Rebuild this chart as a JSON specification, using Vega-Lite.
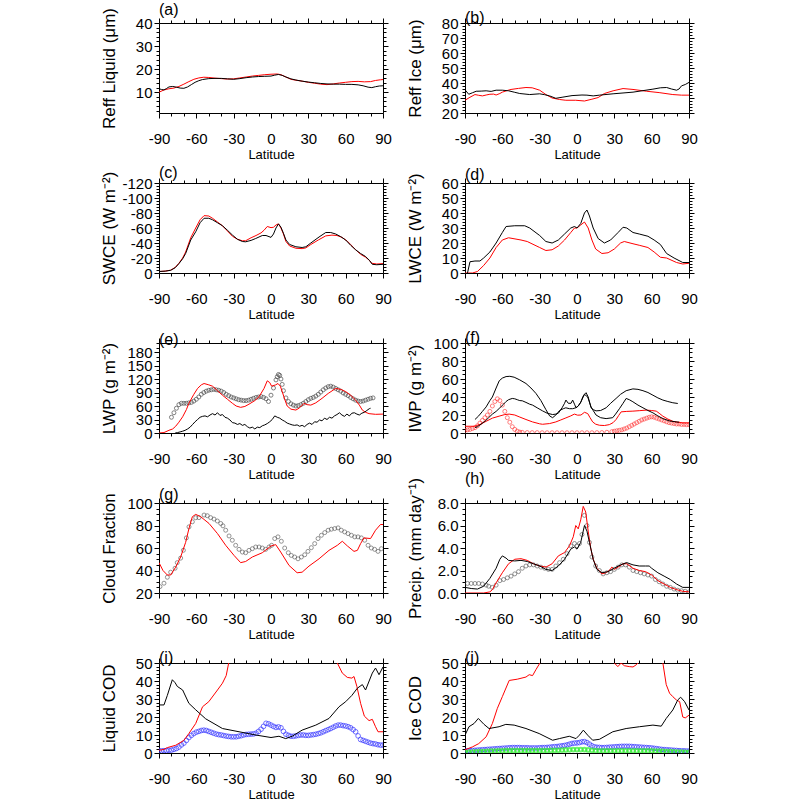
{
"$schema":"https://vega.github.io/schema/vega-lite/v6.json",
"background":"white",
"padding":{"left":100,"top":1,"right":5,"bottom":2},
"config":{
 "font":"Liberation Sans",
 "view":{"stroke":null},
 "title":{"fontSize":16,"fontWeight":"normal","anchor":"start","frame":"group","offset":-10,"color":"#000","font":"Liberation Sans"},
 "axis":{"labelFont":"Liberation Sans","titleFont":"Liberation Sans","labelFontSize":15,"titleFontSize":17,"titleFontWeight":"normal","labelColor":"#000","titleColor":"#000","domainColor":"#000","tickColor":"#000","tickSize":5,"tickWidth":1,"domainWidth":1,"grid":false,"labelFlush":false,"labelOverlap":false},
 "axisX":{"titleFontSize":13,"labelPadding":13,"titlePadding":2},
 "axisY":{"labelPadding":2,"titlePadding":4}
},
"datasets":{
"a_r":[{"lat":-90,"v":10},{"lat":-86,"v":11},{"lat":-82,"v":11.5},{"lat":-78,"v":11.8},{"lat":-74,"v":12.5},{"lat":-70,"v":13.5},{"lat":-66,"v":14.6},{"lat":-62,"v":15.6},{"lat":-58,"v":16.2},{"lat":-54,"v":16.5},{"lat":-50,"v":16.4},{"lat":-45,"v":16.1},{"lat":-40,"v":15.9},{"lat":-35,"v":15.7},{"lat":-30,"v":15.8},{"lat":-25,"v":16.2},{"lat":-20,"v":16.6},{"lat":-15,"v":17},{"lat":-10,"v":17.3},{"lat":-5,"v":17.6},{"lat":0,"v":17.8},{"lat":5,"v":17.9},{"lat":8,"v":17.6},{"lat":12,"v":16.6},{"lat":16,"v":15.6},{"lat":20,"v":15.2},{"lat":25,"v":14.8},{"lat":30,"v":14.3},{"lat":35,"v":13.9},{"lat":40,"v":13.5},{"lat":45,"v":13.3},{"lat":50,"v":13.6},{"lat":55,"v":14},{"lat":60,"v":14.3},{"lat":65,"v":14.6},{"lat":70,"v":14.7},{"lat":75,"v":14.5},{"lat":80,"v":14.6},{"lat":84,"v":15.1},{"lat":88,"v":15.4},{"lat":90,"v":15.5}],
"a_k":[{"lat":-90,"v":11.5},{"lat":-88,"v":11.2},{"lat":-86,"v":11},{"lat":-84,"v":11.6},{"lat":-82,"v":12.3},{"lat":-79,"v":12.5},{"lat":-76,"v":12.2},{"lat":-73,"v":11.8},{"lat":-70,"v":11.7},{"lat":-67,"v":12.3},{"lat":-64,"v":13.3},{"lat":-61,"v":14.3},{"lat":-58,"v":15},{"lat":-55,"v":15.5},{"lat":-50,"v":15.9},{"lat":-45,"v":16},{"lat":-40,"v":16},{"lat":-35,"v":15.8},{"lat":-30,"v":15.6},{"lat":-25,"v":15.9},{"lat":-20,"v":16.3},{"lat":-15,"v":16.6},{"lat":-10,"v":16.8},{"lat":-5,"v":16.9},{"lat":0,"v":17},{"lat":3,"v":17.4},{"lat":6,"v":17.7},{"lat":9,"v":17.3},{"lat":12,"v":16.6},{"lat":16,"v":15.8},{"lat":20,"v":15.3},{"lat":25,"v":14.8},{"lat":30,"v":14.4},{"lat":35,"v":14.1},{"lat":40,"v":13.8},{"lat":45,"v":13.6},{"lat":50,"v":13.5},{"lat":55,"v":13.5},{"lat":60,"v":13.4},{"lat":65,"v":13.4},{"lat":70,"v":13.2},{"lat":74,"v":12.8},{"lat":78,"v":12.2},{"lat":81,"v":12},{"lat":84,"v":12.4},{"lat":87,"v":12.7},{"lat":90,"v":12.8}],
"b_r":[{"lat":-90,"v":28.5},{"lat":-86,"v":30.5},{"lat":-82,"v":32.3},{"lat":-79,"v":31.8},{"lat":-76,"v":31.4},{"lat":-73,"v":32},{"lat":-70,"v":32.5},{"lat":-67,"v":32.6},{"lat":-65,"v":32},{"lat":-62,"v":33},{"lat":-60,"v":33.9},{"lat":-56,"v":35},{"lat":-53,"v":35.7},{"lat":-47,"v":36.4},{"lat":-41,"v":37},{"lat":-36,"v":36.8},{"lat":-30,"v":35.2},{"lat":-25,"v":32.3},{"lat":-20,"v":30},{"lat":-14,"v":29},{"lat":-9,"v":28.5},{"lat":-1,"v":28.5},{"lat":6,"v":28},{"lat":12,"v":29.2},{"lat":17,"v":30.3},{"lat":22,"v":33},{"lat":29,"v":34.8},{"lat":37,"v":36.3},{"lat":45,"v":35.7},{"lat":56,"v":34.5},{"lat":66,"v":33.6},{"lat":77,"v":32.3},{"lat":84,"v":31.9},{"lat":90,"v":31.9}],
"b_k":[{"lat":-90,"v":35.5},{"lat":-87,"v":32.5},{"lat":-84,"v":33.5},{"lat":-81,"v":34.5},{"lat":-77,"v":34.6},{"lat":-73,"v":34.8},{"lat":-69,"v":34.4},{"lat":-65,"v":35.2},{"lat":-60,"v":35.2},{"lat":-55,"v":34.8},{"lat":-50,"v":33.8},{"lat":-46,"v":33},{"lat":-38,"v":32.3},{"lat":-30,"v":32.8},{"lat":-26,"v":32.2},{"lat":-22,"v":31.4},{"lat":-17,"v":29.8},{"lat":-12,"v":30.5},{"lat":-4,"v":31.6},{"lat":4,"v":32},{"lat":8,"v":31.9},{"lat":13,"v":31.4},{"lat":18,"v":31.9},{"lat":29,"v":32.8},{"lat":45,"v":33.9},{"lat":61,"v":35.9},{"lat":67,"v":36.8},{"lat":72,"v":37},{"lat":76,"v":36},{"lat":80,"v":35.2},{"lat":82,"v":36},{"lat":84,"v":38.1},{"lat":87,"v":39},{"lat":90,"v":40.4}],
"c_k":[{"lat":-90,"v":-2},{"lat":-85,"v":-2.5},{"lat":-80.6,"v":-3.6},{"lat":-77,"v":-7},{"lat":-74,"v":-12.5},{"lat":-71,"v":-19},{"lat":-68.6,"v":-26},{"lat":-64.5,"v":-44},{"lat":-60.5,"v":-55},{"lat":-57,"v":-67},{"lat":-53.8,"v":-73},{"lat":-50,"v":-73},{"lat":-47,"v":-71},{"lat":-43,"v":-67},{"lat":-39,"v":-63},{"lat":-35,"v":-57},{"lat":-31,"v":-50.6},{"lat":-27,"v":-45},{"lat":-23,"v":-42},{"lat":-20.4,"v":-41.6},{"lat":-16,"v":-43.5},{"lat":-12.3,"v":-46},{"lat":-7,"v":-50},{"lat":-4,"v":-50},{"lat":0,"v":-47.5},{"lat":2,"v":-52},{"lat":4,"v":-60},{"lat":6,"v":-65.5},{"lat":8,"v":-61},{"lat":10,"v":-53},{"lat":12,"v":-44},{"lat":15,"v":-38},{"lat":20,"v":-35},{"lat":25,"v":-34},{"lat":28,"v":-35},{"lat":32,"v":-40},{"lat":38.6,"v":-48},{"lat":44,"v":-54},{"lat":48,"v":-54},{"lat":52,"v":-52},{"lat":56,"v":-48.5},{"lat":60,"v":-44},{"lat":64,"v":-37},{"lat":68,"v":-31},{"lat":72,"v":-26},{"lat":76,"v":-22},{"lat":79,"v":-17},{"lat":81.4,"v":-11.6},{"lat":85,"v":-11},{"lat":90,"v":-11.6}],
"c_r":[{"lat":-90,"v":-2},{"lat":-85,"v":-2.5},{"lat":-80.6,"v":-3.8},{"lat":-77,"v":-7.5},{"lat":-74,"v":-13},{"lat":-71,"v":-20},{"lat":-68.6,"v":-28},{"lat":-64.5,"v":-47},{"lat":-60.5,"v":-60},{"lat":-57,"v":-71},{"lat":-53.8,"v":-76.5},{"lat":-50,"v":-76},{"lat":-47,"v":-73},{"lat":-43,"v":-68},{"lat":-39,"v":-63},{"lat":-35,"v":-56},{"lat":-31,"v":-49},{"lat":-27,"v":-45},{"lat":-23,"v":-43},{"lat":-20.4,"v":-43},{"lat":-16,"v":-47},{"lat":-12,"v":-50},{"lat":-8,"v":-53.5},{"lat":-5.6,"v":-57},{"lat":-3,"v":-62},{"lat":0,"v":-60.5},{"lat":2,"v":-61},{"lat":4,"v":-64},{"lat":6,"v":-65.5},{"lat":8,"v":-60},{"lat":10,"v":-52},{"lat":12,"v":-42},{"lat":15,"v":-36},{"lat":20,"v":-33},{"lat":25,"v":-32.5},{"lat":28,"v":-33.5},{"lat":32,"v":-38},{"lat":38,"v":-44},{"lat":44,"v":-49.5},{"lat":49,"v":-50.5},{"lat":53,"v":-50},{"lat":57,"v":-47.5},{"lat":61,"v":-43},{"lat":64,"v":-38},{"lat":68,"v":-31},{"lat":72,"v":-25},{"lat":76,"v":-21},{"lat":79,"v":-17},{"lat":81,"v":-13},{"lat":85,"v":-12},{"lat":90,"v":-12.5}],
"d_k":[{"lat":-88,"v":0},{"lat":-86,"v":7.5},{"lat":-82,"v":8},{"lat":-78,"v":8},{"lat":-75,"v":10},{"lat":-70,"v":14},{"lat":-65,"v":20},{"lat":-60,"v":27},{"lat":-57,"v":31},{"lat":-50,"v":31.5},{"lat":-42,"v":31.5},{"lat":-38,"v":30},{"lat":-30,"v":25},{"lat":-25,"v":21},{"lat":-20,"v":20},{"lat":-15,"v":22},{"lat":-10,"v":26},{"lat":-5,"v":30},{"lat":-2,"v":31},{"lat":0,"v":30},{"lat":3,"v":33},{"lat":6,"v":40},{"lat":8,"v":42},{"lat":10,"v":38},{"lat":13,"v":30},{"lat":17,"v":23},{"lat":22,"v":20},{"lat":27,"v":22},{"lat":33,"v":27},{"lat":37,"v":30.5},{"lat":40,"v":30},{"lat":45,"v":27},{"lat":50,"v":26},{"lat":57,"v":24.5},{"lat":62,"v":22},{"lat":67,"v":19},{"lat":72,"v":13},{"lat":78,"v":10},{"lat":85,"v":7},{"lat":90,"v":7}],
"d_r":[{"lat":-90,"v":0},{"lat":-84,"v":0},{"lat":-80,"v":1},{"lat":-75,"v":5},{"lat":-70,"v":10},{"lat":-65,"v":17},{"lat":-60,"v":22},{"lat":-55,"v":23.5},{"lat":-45,"v":22},{"lat":-40,"v":21},{"lat":-30,"v":17},{"lat":-25,"v":15},{"lat":-20,"v":15.5},{"lat":-15,"v":18},{"lat":-10,"v":22},{"lat":-5,"v":27},{"lat":-2,"v":30},{"lat":0,"v":30},{"lat":3,"v":32},{"lat":6,"v":34},{"lat":9,"v":30},{"lat":12,"v":22},{"lat":15,"v":16},{"lat":20,"v":13},{"lat":25,"v":13.5},{"lat":30,"v":16},{"lat":35,"v":20},{"lat":38,"v":21},{"lat":45,"v":19.5},{"lat":50,"v":18.5},{"lat":57,"v":17},{"lat":62,"v":14},{"lat":67,"v":10.5},{"lat":72,"v":10},{"lat":80,"v":7},{"lat":85,"v":6},{"lat":90,"v":6.5}],
"e_r":[{"lat":-90,"v":0},{"lat":-86,"v":1},{"lat":-82,"v":6},{"lat":-79,"v":9},{"lat":-76.6,"v":15},{"lat":-74,"v":24},{"lat":-71,"v":36},{"lat":-68,"v":52},{"lat":-66,"v":66},{"lat":-62,"v":86},{"lat":-59,"v":99},{"lat":-56,"v":107},{"lat":-53.8,"v":110},{"lat":-50,"v":107},{"lat":-47,"v":104},{"lat":-43,"v":94},{"lat":-39,"v":84},{"lat":-35,"v":75},{"lat":-31,"v":66},{"lat":-28,"v":60},{"lat":-24.4,"v":57},{"lat":-21,"v":59},{"lat":-17.7,"v":64},{"lat":-13,"v":72},{"lat":-9.6,"v":80.6},{"lat":-5.6,"v":99},{"lat":-3,"v":116},{"lat":-1,"v":112},{"lat":0.5,"v":104},{"lat":3.8,"v":107},{"lat":5.6,"v":110},{"lat":7.5,"v":104},{"lat":9,"v":92},{"lat":11,"v":75},{"lat":13,"v":60},{"lat":16,"v":53},{"lat":20,"v":51},{"lat":23,"v":56},{"lat":26.5,"v":66},{"lat":29,"v":63},{"lat":32,"v":62},{"lat":36,"v":67},{"lat":41,"v":77},{"lat":46,"v":88},{"lat":52,"v":99},{"lat":56,"v":97},{"lat":60,"v":92},{"lat":64,"v":84},{"lat":68,"v":73},{"lat":71,"v":62},{"lat":73.4,"v":51},{"lat":76,"v":46},{"lat":78.8,"v":43},{"lat":84,"v":41.5},{"lat":90,"v":42}],
"e_k":[{"lat":-77,"v":0},{"lat":-75,"v":1},{"lat":-73,"v":2.5},{"lat":-71,"v":4},{"lat":-69,"v":6},{"lat":-67,"v":9},{"lat":-65,"v":13},{"lat":-63,"v":19},{"lat":-61,"v":25},{"lat":-59,"v":30},{"lat":-57,"v":35},{"lat":-55,"v":37},{"lat":-53,"v":38},{"lat":-51,"v":36},{"lat":-49,"v":40},{"lat":-47,"v":43},{"lat":-45,"v":40},{"lat":-43,"v":45},{"lat":-41,"v":39},{"lat":-39,"v":41},{"lat":-37,"v":35},{"lat":-35,"v":33},{"lat":-33,"v":29},{"lat":-31,"v":23},{"lat":-29,"v":22},{"lat":-27,"v":19},{"lat":-25,"v":21},{"lat":-23,"v":17},{"lat":-21,"v":19},{"lat":-19,"v":14},{"lat":-17,"v":11},{"lat":-15,"v":13},{"lat":-13,"v":9},{"lat":-11,"v":13},{"lat":-9,"v":12},{"lat":-7,"v":16},{"lat":-5,"v":18},{"lat":-3,"v":21},{"lat":-1,"v":25},{"lat":1,"v":30},{"lat":3,"v":38},{"lat":5,"v":35},{"lat":7,"v":33},{"lat":9,"v":29},{"lat":11,"v":26},{"lat":13,"v":22},{"lat":15,"v":20},{"lat":17,"v":18},{"lat":19,"v":17},{"lat":21,"v":18},{"lat":23,"v":15},{"lat":25,"v":17},{"lat":27,"v":14},{"lat":29,"v":19},{"lat":31,"v":22},{"lat":33,"v":19},{"lat":35,"v":25},{"lat":37,"v":24},{"lat":39,"v":29},{"lat":41,"v":27},{"lat":43,"v":33},{"lat":45,"v":30},{"lat":47,"v":35},{"lat":49,"v":33},{"lat":51,"v":38},{"lat":53,"v":41},{"lat":55,"v":45},{"lat":57,"v":40},{"lat":59,"v":37},{"lat":61,"v":42},{"lat":63,"v":38},{"lat":65,"v":44},{"lat":67,"v":45},{"lat":69,"v":42},{"lat":71,"v":40},{"lat":73,"v":44},{"lat":75,"v":46},{"lat":77,"v":50},{"lat":79,"v":54},{"lat":80,"v":55}],
"e_o":[{"lat":-80,"v":35},{"lat":-78,"v":45},{"lat":-76,"v":55},{"lat":-74,"v":63},{"lat":-72,"v":66},{"lat":-70,"v":66},{"lat":-68,"v":66},{"lat":-66,"v":67},{"lat":-64,"v":68},{"lat":-62,"v":71},{"lat":-60,"v":75},{"lat":-58,"v":80},{"lat":-56,"v":86},{"lat":-54,"v":90},{"lat":-52,"v":93},{"lat":-50,"v":95},{"lat":-48,"v":96},{"lat":-46,"v":97},{"lat":-44,"v":96},{"lat":-42,"v":95},{"lat":-40,"v":93},{"lat":-38,"v":90},{"lat":-36,"v":86},{"lat":-34,"v":83},{"lat":-32,"v":80},{"lat":-30,"v":78},{"lat":-28,"v":76},{"lat":-26,"v":74},{"lat":-24,"v":73},{"lat":-22,"v":72},{"lat":-20,"v":72},{"lat":-18,"v":73},{"lat":-16,"v":75},{"lat":-14,"v":77},{"lat":-12,"v":79},{"lat":-10,"v":80},{"lat":-8,"v":81},{"lat":-6,"v":79},{"lat":-4,"v":76},{"lat":-2,"v":70},{"lat":0,"v":84},{"lat":2,"v":100},{"lat":4,"v":118},{"lat":5,"v":125},{"lat":6,"v":130},{"lat":7,"v":128},{"lat":8,"v":120},{"lat":9,"v":108},{"lat":10,"v":94},{"lat":12,"v":78},{"lat":14,"v":70},{"lat":16,"v":65},{"lat":18,"v":62},{"lat":20,"v":60},{"lat":22,"v":61},{"lat":24,"v":63},{"lat":26,"v":66},{"lat":28,"v":70},{"lat":30,"v":74},{"lat":32,"v":77},{"lat":34,"v":79},{"lat":36,"v":82},{"lat":38,"v":86},{"lat":40,"v":91},{"lat":42,"v":96},{"lat":44,"v":100},{"lat":46,"v":103},{"lat":48,"v":104},{"lat":50,"v":102},{"lat":52,"v":99},{"lat":54,"v":96},{"lat":56,"v":93},{"lat":58,"v":89},{"lat":60,"v":86},{"lat":62,"v":83},{"lat":64,"v":79},{"lat":66,"v":76},{"lat":68,"v":73},{"lat":70,"v":71},{"lat":72,"v":70},{"lat":74,"v":71},{"lat":76,"v":73},{"lat":78,"v":75},{"lat":80,"v":77},{"lat":82,"v":78}],
"f_k1":[{"lat":-82,"v":15},{"lat":-79,"v":19},{"lat":-76,"v":24},{"lat":-73,"v":29},{"lat":-70,"v":36},{"lat":-68,"v":40},{"lat":-65,"v":50},{"lat":-62.5,"v":58},{"lat":-60,"v":61},{"lat":-57,"v":62.7},{"lat":-54,"v":63},{"lat":-50.5,"v":62},{"lat":-46,"v":59},{"lat":-41,"v":55},{"lat":-37,"v":50},{"lat":-33,"v":44},{"lat":-29,"v":36},{"lat":-25,"v":26},{"lat":-22,"v":19},{"lat":-19.6,"v":17},{"lat":-17,"v":20},{"lat":-14,"v":25},{"lat":-11,"v":27},{"lat":-9,"v":28},{"lat":-6,"v":27},{"lat":-3.5,"v":27},{"lat":-1,"v":28},{"lat":1,"v":30},{"lat":3,"v":34},{"lat":4.6,"v":40},{"lat":6,"v":43},{"lat":7.3,"v":44.8},{"lat":9,"v":40},{"lat":11.3,"v":28},{"lat":13,"v":26},{"lat":15.3,"v":24.6},{"lat":19,"v":25},{"lat":23.4,"v":28},{"lat":27,"v":33},{"lat":31.4,"v":38.4},{"lat":35,"v":43},{"lat":39.5,"v":47},{"lat":44.9,"v":49},{"lat":49,"v":48.5},{"lat":53,"v":47},{"lat":57,"v":45},{"lat":61,"v":42},{"lat":65,"v":39},{"lat":69,"v":36.6},{"lat":73,"v":35},{"lat":77,"v":33.6},{"lat":81,"v":32.8}],
"f_k2":[{"lat":-82,"v":6},{"lat":-80,"v":7},{"lat":-77,"v":10},{"lat":-74,"v":13},{"lat":-71,"v":17},{"lat":-68,"v":21},{"lat":-65,"v":24},{"lat":-62,"v":28},{"lat":-59,"v":32},{"lat":-57,"v":35},{"lat":-55,"v":37},{"lat":-52,"v":38.4},{"lat":-50,"v":38},{"lat":-48,"v":37},{"lat":-46,"v":36},{"lat":-44,"v":35.8},{"lat":-41,"v":34},{"lat":-38,"v":32},{"lat":-35.7,"v":31},{"lat":-32,"v":28},{"lat":-27.7,"v":24.6},{"lat":-24,"v":22},{"lat":-19.6,"v":20.5},{"lat":-17,"v":21},{"lat":-15,"v":22},{"lat":-12,"v":28},{"lat":-10,"v":33},{"lat":-8.9,"v":36.6},{"lat":-7,"v":33},{"lat":-4.8,"v":33},{"lat":-3.5,"v":36.6},{"lat":-2,"v":32},{"lat":-0.8,"v":28},{"lat":1,"v":30},{"lat":3.2,"v":34.7},{"lat":6,"v":43},{"lat":8.6,"v":40},{"lat":11.3,"v":29},{"lat":13,"v":25},{"lat":15.3,"v":20},{"lat":19,"v":17},{"lat":23.4,"v":16},{"lat":28.7,"v":17},{"lat":31,"v":21},{"lat":34.1,"v":27},{"lat":37,"v":33},{"lat":39.5,"v":38.4},{"lat":42,"v":37},{"lat":44.9,"v":34.7},{"lat":49,"v":31},{"lat":53,"v":28},{"lat":57,"v":25},{"lat":61,"v":22.4},{"lat":65,"v":19},{"lat":69,"v":16},{"lat":74,"v":13.5},{"lat":79.8,"v":12.3},{"lat":82,"v":12}],
"f_r":[{"lat":-90,"v":7.5},{"lat":-82,"v":7.5},{"lat":-78,"v":9.5},{"lat":-73,"v":13},{"lat":-68,"v":16.5},{"lat":-62.6,"v":18.7},{"lat":-58,"v":20.5},{"lat":-54.5,"v":21},{"lat":-50,"v":20},{"lat":-46.5,"v":18},{"lat":-41,"v":15},{"lat":-35.7,"v":12.3},{"lat":-30,"v":10.2},{"lat":-27.7,"v":9.7},{"lat":-22,"v":10.5},{"lat":-17,"v":12.3},{"lat":-13,"v":14.5},{"lat":-8.9,"v":16.8},{"lat":-5,"v":19},{"lat":-2.1,"v":21},{"lat":0.5,"v":19.8},{"lat":3.2,"v":20},{"lat":6,"v":23},{"lat":8.6,"v":21.6},{"lat":10.5,"v":17},{"lat":12.6,"v":12.3},{"lat":15,"v":9.8},{"lat":18,"v":8.6},{"lat":22,"v":8.3},{"lat":26,"v":9.3},{"lat":29,"v":11.5},{"lat":31.4,"v":15},{"lat":33.5,"v":19.5},{"lat":35.5,"v":23.5},{"lat":40,"v":24},{"lat":44.9,"v":24.3},{"lat":50,"v":24.8},{"lat":55.6,"v":25.4},{"lat":60,"v":25},{"lat":63.7,"v":24.3},{"lat":66,"v":22},{"lat":69,"v":18.7},{"lat":73,"v":15.5},{"lat":77,"v":13},{"lat":81,"v":12},{"lat":85,"v":11.2},{"lat":90,"v":11.2}],
"f_o":[{"lat":-90,"v":3},{"lat":-88,"v":3.5},{"lat":-86,"v":4},{"lat":-84,"v":5},{"lat":-82,"v":6},{"lat":-80,"v":8},{"lat":-78,"v":11},{"lat":-76,"v":14},{"lat":-74,"v":17},{"lat":-72,"v":20},{"lat":-70,"v":24},{"lat":-68,"v":30},{"lat":-66,"v":35},{"lat":-64,"v":38},{"lat":-62,"v":36},{"lat":-60,"v":31},{"lat":-58,"v":24},{"lat":-56,"v":17},{"lat":-54,"v":12},{"lat":-52,"v":7},{"lat":-50,"v":4},{"lat":-48,"v":2},{"lat":-46,"v":1},{"lat":-44,"v":0.7},{"lat":-40,"v":0.5},{"lat":-36,"v":0.4},{"lat":-32,"v":0.4},{"lat":-28,"v":0.3},{"lat":-24,"v":0.3},{"lat":-20,"v":0.3},{"lat":-16,"v":0.3},{"lat":-12,"v":0.3},{"lat":-8,"v":0.3},{"lat":-4,"v":0.3},{"lat":0,"v":0.3},{"lat":4,"v":0.3},{"lat":8,"v":0.3},{"lat":12,"v":0.3},{"lat":16,"v":0.4},{"lat":20,"v":0.5},{"lat":24,"v":0.8},{"lat":28,"v":1.5},{"lat":30,"v":2},{"lat":32,"v":2.5},{"lat":34,"v":3},{"lat":36,"v":3.5},{"lat":38,"v":4.5},{"lat":40,"v":5.5},{"lat":42,"v":7},{"lat":44,"v":8.5},{"lat":46,"v":10},{"lat":48,"v":11.5},{"lat":50,"v":13},{"lat":52,"v":14.5},{"lat":54,"v":15.5},{"lat":56,"v":16.5},{"lat":58,"v":17.5},{"lat":60,"v":18},{"lat":62,"v":17.5},{"lat":64,"v":16.5},{"lat":66,"v":15.5},{"lat":68,"v":14.5},{"lat":70,"v":13.5},{"lat":72,"v":12.5},{"lat":74,"v":11.5},{"lat":76,"v":11},{"lat":78,"v":10.5},{"lat":80,"v":10},{"lat":82,"v":10},{"lat":84,"v":9.5},{"lat":86,"v":9.5},{"lat":88,"v":9.3},{"lat":90,"v":9.3}],
"g_r":[{"lat":-90,"v":47},{"lat":-86.8,"v":40},{"lat":-83.3,"v":36},{"lat":-80.6,"v":36},{"lat":-76.6,"v":43},{"lat":-72.6,"v":52},{"lat":-68.6,"v":65},{"lat":-66,"v":77},{"lat":-63.2,"v":87.8},{"lat":-60.5,"v":89.9},{"lat":-56.5,"v":87.8},{"lat":-49.8,"v":81.8},{"lat":-43,"v":72.8},{"lat":-36.4,"v":62.4},{"lat":-29.7,"v":53.4},{"lat":-24.4,"v":47},{"lat":-20.4,"v":48},{"lat":-15,"v":52},{"lat":-7,"v":55.8},{"lat":0,"v":61.8},{"lat":3.8,"v":63},{"lat":7.8,"v":56.4},{"lat":14.5,"v":44.5},{"lat":21,"v":38},{"lat":25,"v":38.5},{"lat":30.5,"v":43.9},{"lat":38.6,"v":50.4},{"lat":46.6,"v":57.9},{"lat":53.3,"v":62.4},{"lat":57.3,"v":66},{"lat":61.4,"v":61.8},{"lat":66.7,"v":57},{"lat":69.4,"v":57.9},{"lat":72,"v":63.9},{"lat":74.7,"v":69},{"lat":80,"v":68.4},{"lat":84,"v":75.8},{"lat":88,"v":80.9},{"lat":90,"v":80.9}],
"g_o":[{"lat":-89.2,"v":25.7},{"lat":-86,"v":28.7},{"lat":-83.3,"v":34},{"lat":-80.6,"v":38.5},{"lat":-77.1,"v":42},{"lat":-75.3,"v":47},{"lat":-72.6,"v":51},{"lat":-70.4,"v":58},{"lat":-68,"v":69},{"lat":-65.9,"v":78.8},{"lat":-63.2,"v":83.3},{"lat":-60.5,"v":86.9},{"lat":-57.9,"v":87},{"lat":-53.8,"v":89.3},{"lat":-51.2,"v":88.7},{"lat":-48.5,"v":87},{"lat":-45.8,"v":85.7},{"lat":-43.1,"v":84},{"lat":-40.4,"v":81.8},{"lat":-38.6,"v":79.7},{"lat":-36.4,"v":75.8},{"lat":-33.7,"v":70.7},{"lat":-31.1,"v":66.9},{"lat":-28.4,"v":62.4},{"lat":-25.7,"v":58.8},{"lat":-23,"v":56.4},{"lat":-20.4,"v":55.8},{"lat":-17.7,"v":57.9},{"lat":-15,"v":59.4},{"lat":-12.3,"v":60.9},{"lat":-9.6,"v":60.9},{"lat":-7,"v":60},{"lat":-4.3,"v":58.8},{"lat":-1.6,"v":60.9},{"lat":0.5,"v":62.4},{"lat":3,"v":68.4},{"lat":5.6,"v":69.9},{"lat":8.3,"v":66},{"lat":11,"v":60},{"lat":13.9,"v":55.8},{"lat":16.3,"v":53.4},{"lat":19,"v":52},{"lat":21.7,"v":50.4},{"lat":24.4,"v":52},{"lat":27.1,"v":54},{"lat":29.7,"v":57},{"lat":32.4,"v":60.3},{"lat":35.1,"v":63.9},{"lat":37.8,"v":68.4},{"lat":40.5,"v":71.3},{"lat":43.2,"v":73.7},{"lat":45.9,"v":75.8},{"lat":48.5,"v":76.7},{"lat":51.2,"v":77.3},{"lat":53.9,"v":77.9},{"lat":56.5,"v":75.8},{"lat":59.2,"v":74.3},{"lat":61.9,"v":72.8},{"lat":64.6,"v":71.3},{"lat":67.3,"v":69.9},{"lat":69.9,"v":69.9},{"lat":72.6,"v":69},{"lat":75.3,"v":66.9},{"lat":78,"v":62.4},{"lat":80.6,"v":60},{"lat":83.3,"v":58.8},{"lat":86,"v":57},{"lat":88.7,"v":59.4}],
"h_k":[{"lat":-90,"v":0.5},{"lat":-85,"v":0.4},{"lat":-80,"v":0.35},{"lat":-75,"v":0.6},{"lat":-70,"v":1.3},{"lat":-65,"v":2.2},{"lat":-62,"v":3.0},{"lat":-60,"v":3.3},{"lat":-57,"v":3.1},{"lat":-55,"v":2.9},{"lat":-50,"v":2.85},{"lat":-45,"v":2.9},{"lat":-40,"v":2.8},{"lat":-35,"v":2.6},{"lat":-30,"v":2.4},{"lat":-25,"v":2.1},{"lat":-20,"v":2.0},{"lat":-15,"v":2.4},{"lat":-10,"v":3.0},{"lat":-5,"v":3.9},{"lat":-2,"v":4.1},{"lat":0,"v":3.9},{"lat":3,"v":4.5},{"lat":6,"v":6.0},{"lat":8,"v":5.5},{"lat":10,"v":4.5},{"lat":13,"v":3.0},{"lat":16,"v":2.1},{"lat":20,"v":1.8},{"lat":25,"v":1.9},{"lat":30,"v":2.2},{"lat":35,"v":2.5},{"lat":40,"v":2.7},{"lat":45,"v":2.5},{"lat":50,"v":2.4},{"lat":55,"v":2.4},{"lat":58,"v":2.4},{"lat":60,"v":2.2},{"lat":65,"v":1.8},{"lat":70,"v":1.5},{"lat":75,"v":1.2},{"lat":80,"v":0.8},{"lat":85,"v":0.5},{"lat":90,"v":0.5}],
"h_r":[{"lat":-90,"v":0},{"lat":-75,"v":0},{"lat":-70,"v":0.1},{"lat":-68,"v":0.3},{"lat":-65,"v":0.9},{"lat":-60,"v":1.8},{"lat":-55,"v":2.6},{"lat":-50,"v":3.0},{"lat":-45,"v":3.05},{"lat":-40,"v":2.9},{"lat":-35,"v":2.6},{"lat":-30,"v":2.4},{"lat":-25,"v":2.3},{"lat":-20,"v":2.6},{"lat":-15,"v":3.3},{"lat":-10,"v":3.6},{"lat":-6,"v":4.2},{"lat":-3,"v":5.0},{"lat":-1,"v":6.0},{"lat":1,"v":5.7},{"lat":3,"v":6.5},{"lat":5,"v":7.7},{"lat":7,"v":7.2},{"lat":9,"v":5.5},{"lat":11,"v":4.0},{"lat":13,"v":3.0},{"lat":16,"v":2.2},{"lat":20,"v":1.7},{"lat":23,"v":1.8},{"lat":26,"v":2.0},{"lat":28,"v":2.3},{"lat":30,"v":2.1},{"lat":33,"v":2.3},{"lat":37,"v":2.6},{"lat":40,"v":2.6},{"lat":45,"v":2.2},{"lat":50,"v":2.0},{"lat":55,"v":1.9},{"lat":60,"v":1.6},{"lat":65,"v":1.1},{"lat":70,"v":0.8},{"lat":75,"v":0.5},{"lat":80,"v":0.3},{"lat":85,"v":0.15},{"lat":90,"v":0.1}],
"h_o":[{"lat":-88,"v":0.85},{"lat":-85,"v":0.85},{"lat":-82,"v":0.85},{"lat":-79,"v":0.85},{"lat":-76,"v":0.8},{"lat":-73,"v":0.7},{"lat":-71,"v":0.6},{"lat":-68,"v":0.5},{"lat":-65,"v":0.7},{"lat":-62,"v":1.1},{"lat":-59,"v":1.2},{"lat":-56,"v":1.35},{"lat":-53,"v":1.5},{"lat":-50,"v":1.7},{"lat":-47,"v":1.9},{"lat":-44,"v":2.2},{"lat":-41,"v":2.4},{"lat":-38,"v":2.5},{"lat":-35,"v":2.5},{"lat":-32,"v":2.4},{"lat":-29,"v":2.3},{"lat":-26,"v":2.2},{"lat":-23,"v":2.1},{"lat":-20,"v":2.1},{"lat":-17,"v":2.4},{"lat":-14,"v":2.7},{"lat":-11,"v":3.0},{"lat":-8,"v":3.5},{"lat":-5,"v":4.2},{"lat":-2,"v":4.4},{"lat":0,"v":4.2},{"lat":2,"v":4.4},{"lat":4,"v":5.2},{"lat":6,"v":6.9},{"lat":8,"v":6.0},{"lat":10,"v":4.5},{"lat":12,"v":3.2},{"lat":15,"v":2.4},{"lat":18,"v":2.0},{"lat":21,"v":1.7},{"lat":24,"v":1.8},{"lat":27,"v":1.9},{"lat":30,"v":2.1},{"lat":33,"v":2.3},{"lat":36,"v":2.5},{"lat":39,"v":2.5},{"lat":42,"v":2.3},{"lat":45,"v":2.0},{"lat":48,"v":1.9},{"lat":51,"v":1.8},{"lat":54,"v":1.7},{"lat":57,"v":1.6},{"lat":60,"v":1.5},{"lat":63,"v":1.2},{"lat":66,"v":1.0},{"lat":69,"v":0.8},{"lat":72,"v":0.6},{"lat":75,"v":0.5},{"lat":78,"v":0.35},{"lat":81,"v":0.25},{"lat":84,"v":0.2},{"lat":87,"v":0.15},{"lat":90,"v":0.1}],
"i_r":[{"lat":-90,"v":1.5},{"lat":-86,"v":2},{"lat":-83.3,"v":3},{"lat":-76.6,"v":4.3},{"lat":-70,"v":7},{"lat":-66,"v":10.8},{"lat":-60.5,"v":16.4},{"lat":-55,"v":25.7},{"lat":-50,"v":28.5},{"lat":-43,"v":35},{"lat":-39,"v":38.8},{"lat":-36,"v":43},{"lat":-34,"v":50},{"lat":-30,"v":60},{"lat":-20,"v":90},{"lat":0,"v":120},{"lat":30,"v":90},{"lat":45,"v":62},{"lat":50,"v":55},{"lat":53.3,"v":50},{"lat":57.3,"v":44.4},{"lat":61.3,"v":42},{"lat":65,"v":41.6},{"lat":66.7,"v":42.5},{"lat":69,"v":37},{"lat":72,"v":27.6},{"lat":75,"v":20.5},{"lat":78.8,"v":18},{"lat":81.4,"v":18.7},{"lat":84,"v":14.6},{"lat":86,"v":11.8},{"lat":90,"v":11.8}],
"i_k":[{"lat":-90,"v":26.7},{"lat":-86,"v":26.7},{"lat":-83.3,"v":32},{"lat":-79.3,"v":40.7},{"lat":-77,"v":39},{"lat":-75.3,"v":37},{"lat":-71,"v":35},{"lat":-66,"v":27.6},{"lat":-60.5,"v":24},{"lat":-52.5,"v":19},{"lat":-45,"v":16},{"lat":-39,"v":13.6},{"lat":-25.7,"v":11.8},{"lat":-12.3,"v":10},{"lat":0,"v":8.6},{"lat":6.4,"v":9.3},{"lat":11.8,"v":8},{"lat":17,"v":9.3},{"lat":25,"v":12.7},{"lat":36,"v":15.5},{"lat":46.6,"v":19.2},{"lat":54.7,"v":25.7},{"lat":60,"v":28.5},{"lat":65,"v":32},{"lat":69.4,"v":36},{"lat":73.4,"v":38},{"lat":76,"v":35},{"lat":81.4,"v":44.4},{"lat":84,"v":47.2},{"lat":86.8,"v":43.5},{"lat":90,"v":47.8}],
"i_b":[{"lat":-90,"v":1.2},{"lat":-88,"v":1.2},{"lat":-86,"v":1.3},{"lat":-84,"v":1.4},{"lat":-82,"v":1.5},{"lat":-80,"v":1.6},{"lat":-78,"v":2},{"lat":-76,"v":2.5},{"lat":-74,"v":3.3},{"lat":-72,"v":4.5},{"lat":-70,"v":5.5},{"lat":-68,"v":7},{"lat":-66,"v":8.6},{"lat":-64,"v":9.8},{"lat":-62,"v":10.8},{"lat":-60,"v":11.6},{"lat":-58,"v":12},{"lat":-56,"v":12.5},{"lat":-54,"v":12.7},{"lat":-52,"v":12.5},{"lat":-50,"v":12},{"lat":-48,"v":11.5},{"lat":-46,"v":11},{"lat":-44,"v":10.5},{"lat":-42,"v":10.2},{"lat":-40,"v":10},{"lat":-38,"v":9.7},{"lat":-36,"v":9.4},{"lat":-34,"v":9.2},{"lat":-32,"v":9},{"lat":-30,"v":9},{"lat":-28,"v":9},{"lat":-26,"v":9.3},{"lat":-24,"v":9.6},{"lat":-22,"v":10},{"lat":-20,"v":10.3},{"lat":-18,"v":10.4},{"lat":-16,"v":10.5},{"lat":-14,"v":10.6},{"lat":-12,"v":11},{"lat":-10,"v":12},{"lat":-8,"v":13.2},{"lat":-6,"v":14.8},{"lat":-4,"v":16.5},{"lat":-2,"v":16.2},{"lat":0,"v":15.5},{"lat":2,"v":14.8},{"lat":4,"v":14.2},{"lat":6,"v":14.5},{"lat":8,"v":14},{"lat":10,"v":12},{"lat":12,"v":10.4},{"lat":14,"v":9.8},{"lat":16,"v":9.3},{"lat":18,"v":9.3},{"lat":20,"v":9.5},{"lat":22,"v":9.8},{"lat":24,"v":10},{"lat":26,"v":10},{"lat":28,"v":9.8},{"lat":30,"v":9.8},{"lat":32,"v":10},{"lat":34,"v":10.2},{"lat":36,"v":10.4},{"lat":38,"v":10.8},{"lat":40,"v":11.2},{"lat":42,"v":11.8},{"lat":44,"v":12.4},{"lat":46,"v":13},{"lat":48,"v":13.6},{"lat":50,"v":14.3},{"lat":52,"v":15},{"lat":54,"v":15.5},{"lat":56,"v":15.5},{"lat":58,"v":15.2},{"lat":60,"v":15},{"lat":62,"v":14.6},{"lat":64,"v":14},{"lat":66,"v":13},{"lat":68,"v":11.8},{"lat":70,"v":9.5},{"lat":72,"v":7.5},{"lat":74,"v":7},{"lat":76,"v":6.5},{"lat":78,"v":6},{"lat":80,"v":5.5},{"lat":82,"v":5.2},{"lat":84,"v":5},{"lat":86,"v":4.6},{"lat":88,"v":4.4},{"lat":90,"v":4.4}],
"j_r":[{"lat":-90,"v":1.8},{"lat":-84,"v":3.4},{"lat":-79,"v":5.2},{"lat":-73,"v":9},{"lat":-68,"v":16.4},{"lat":-64,"v":24.8},{"lat":-60,"v":31.3},{"lat":-54.5,"v":40.3},{"lat":-48,"v":41},{"lat":-41,"v":42.2},{"lat":-38.4,"v":43.5},{"lat":-35.7,"v":43},{"lat":-33,"v":46.3},{"lat":-29.8,"v":50},{"lat":-25,"v":60},{"lat":0,"v":80},{"lat":25,"v":60},{"lat":29,"v":52},{"lat":30,"v":50},{"lat":32.8,"v":48},{"lat":35.5,"v":50},{"lat":38,"v":48.5},{"lat":42,"v":48},{"lat":45,"v":47.8},{"lat":47.6,"v":49},{"lat":49,"v":50},{"lat":52,"v":56},{"lat":60,"v":65},{"lat":67,"v":56},{"lat":69,"v":50},{"lat":71.7,"v":38},{"lat":74.4,"v":33.2},{"lat":77,"v":31.3},{"lat":79.8,"v":29.5},{"lat":82.5,"v":28.5},{"lat":85,"v":20},{"lat":87,"v":19.5},{"lat":90,"v":21}],
"j_k":[{"lat":-90,"v":9.9},{"lat":-86.8,"v":14.6},{"lat":-82.7,"v":16.4},{"lat":-79.3,"v":19.2},{"lat":-74.7,"v":15.9},{"lat":-70.7,"v":13.6},{"lat":-62.6,"v":14.6},{"lat":-57.2,"v":15.9},{"lat":-50.5,"v":15.5},{"lat":-41,"v":13.6},{"lat":-30.4,"v":10.8},{"lat":-19.6,"v":7.1},{"lat":-14.2,"v":8},{"lat":-6.2,"v":9.3},{"lat":-0.8,"v":8},{"lat":1.9,"v":9.9},{"lat":5.1,"v":12.7},{"lat":8.6,"v":9.9},{"lat":12.6,"v":7.1},{"lat":18,"v":7.6},{"lat":28.8,"v":11.8},{"lat":39.5,"v":13.6},{"lat":50.2,"v":14.6},{"lat":61,"v":15.5},{"lat":67.7,"v":14.9},{"lat":71.7,"v":19.2},{"lat":77,"v":23.9},{"lat":81,"v":29.5},{"lat":83.3,"v":31},{"lat":86.5,"v":28.5},{"lat":90,"v":23.9}],
"j_b":[{"lat":-90,"v":1.1},{"lat":-88,"v":1.2},{"lat":-86,"v":1.3},{"lat":-84,"v":1.4},{"lat":-82,"v":1.5},{"lat":-80,"v":1.6},{"lat":-78,"v":1.7},{"lat":-76,"v":1.8},{"lat":-74,"v":1.9},{"lat":-72,"v":2},{"lat":-70,"v":2.1},{"lat":-68,"v":2.2},{"lat":-66,"v":2.3},{"lat":-64,"v":2.4},{"lat":-62,"v":2.5},{"lat":-60,"v":2.6},{"lat":-58,"v":2.7},{"lat":-56,"v":2.8},{"lat":-54,"v":2.9},{"lat":-52,"v":3},{"lat":-50,"v":3},{"lat":-48,"v":3},{"lat":-46,"v":3},{"lat":-44,"v":2.9},{"lat":-42,"v":2.9},{"lat":-40,"v":2.9},{"lat":-38,"v":2.8},{"lat":-36,"v":2.8},{"lat":-34,"v":2.8},{"lat":-32,"v":2.8},{"lat":-30,"v":2.9},{"lat":-28,"v":3},{"lat":-26,"v":3},{"lat":-24,"v":3.1},{"lat":-22,"v":3.2},{"lat":-20,"v":3.4},{"lat":-18,"v":3.5},{"lat":-16,"v":3.6},{"lat":-14,"v":3.8},{"lat":-12,"v":4},{"lat":-10,"v":4.2},{"lat":-8,"v":4.5},{"lat":-6,"v":4.9},{"lat":-4,"v":5.3},{"lat":-2,"v":5.5},{"lat":0,"v":5.6},{"lat":2,"v":5.8},{"lat":4,"v":6.2},{"lat":6,"v":6.3},{"lat":8,"v":5.8},{"lat":10,"v":4.9},{"lat":12,"v":4},{"lat":14,"v":3.4},{"lat":16,"v":3.2},{"lat":18,"v":3.1},{"lat":20,"v":3},{"lat":22,"v":3},{"lat":24,"v":3.1},{"lat":26,"v":3.2},{"lat":28,"v":3.3},{"lat":30,"v":3.4},{"lat":32,"v":3.5},{"lat":34,"v":3.6},{"lat":36,"v":3.7},{"lat":38,"v":3.7},{"lat":40,"v":3.7},{"lat":42,"v":3.7},{"lat":44,"v":3.6},{"lat":46,"v":3.5},{"lat":48,"v":3.4},{"lat":50,"v":3.3},{"lat":52,"v":3.2},{"lat":54,"v":3.1},{"lat":56,"v":3},{"lat":58,"v":2.9},{"lat":60,"v":2.8},{"lat":62,"v":2.6},{"lat":64,"v":2.4},{"lat":66,"v":2.2},{"lat":68,"v":2},{"lat":70,"v":1.9},{"lat":72,"v":1.8},{"lat":74,"v":1.7},{"lat":76,"v":1.6},{"lat":78,"v":1.5},{"lat":80,"v":1.4},{"lat":82,"v":1.3},{"lat":84,"v":1.2},{"lat":86,"v":1.2},{"lat":88,"v":1.1},{"lat":90,"v":1.1}],
"j_g":[{"lat":-90,"v":0.3},{"lat":-87,"v":0.4},{"lat":-84,"v":0.5},{"lat":-81,"v":0.6},{"lat":-78,"v":0.7},{"lat":-75,"v":0.8},{"lat":-72,"v":0.9},{"lat":-69,"v":1},{"lat":-66,"v":1.1},{"lat":-63,"v":1.2},{"lat":-60,"v":1.2},{"lat":-57,"v":1.3},{"lat":-54,"v":1.3},{"lat":-51,"v":1.3},{"lat":-48,"v":1.3},{"lat":-45,"v":1.3},{"lat":-42,"v":1.3},{"lat":-39,"v":1.3},{"lat":-36,"v":1.3},{"lat":-33,"v":1.3},{"lat":-30,"v":1.3},{"lat":-27,"v":1.3},{"lat":-24,"v":1.35},{"lat":-21,"v":1.4},{"lat":-18,"v":1.45},{"lat":-15,"v":1.5},{"lat":-12,"v":1.6},{"lat":-9,"v":1.7},{"lat":-6,"v":1.8},{"lat":-3,"v":1.9},{"lat":0,"v":1.9},{"lat":3,"v":1.9},{"lat":6,"v":1.9},{"lat":9,"v":1.7},{"lat":12,"v":1.5},{"lat":15,"v":1.3},{"lat":18,"v":1.2},{"lat":21,"v":1.2},{"lat":24,"v":1.2},{"lat":27,"v":1.2},{"lat":30,"v":1.2},{"lat":33,"v":1.2},{"lat":36,"v":1.2},{"lat":39,"v":1.2},{"lat":42,"v":1.2},{"lat":45,"v":1.2},{"lat":48,"v":1.2},{"lat":51,"v":1.2},{"lat":54,"v":1.2},{"lat":57,"v":1.2},{"lat":60,"v":1.2},{"lat":63,"v":1.1},{"lat":66,"v":1},{"lat":69,"v":0.9},{"lat":72,"v":0.8},{"lat":75,"v":0.7},{"lat":78,"v":0.6},{"lat":81,"v":0.5},{"lat":84,"v":0.45},{"lat":87,"v":0.4},{"lat":90,"v":0.4}]
},
"columns":2,
"spacing":{"row":70,"column":82},
"bounds":"flush",
"concat":[
{"width":224,"height":90,"title":"(a)","resolve":{"axis":{"x":"independent","y":"independent"}},
 "layer":[
  {"data":{"name":"a_r"},"mark":{"type":"line","color":"#ff0000","strokeWidth":1,"clip":true},"encoding":{"x":{"field":"lat","type":"quantitative","scale":{"domain":[-90,90],"nice":false,"zero":false},"axis":null},"y":{"field":"v","type":"quantitative","scale":{"domain":[1,40],"nice":false,"zero":false},"axis":null}}},
  {"data":{"name":"a_k"},"mark":{"type":"line","color":"#000000","strokeWidth":1,"clip":true},"encoding":{"x":{"field":"lat","type":"quantitative","scale":{"domain":[-90,90],"nice":false,"zero":false},"axis":null},"y":{"field":"v","type":"quantitative","scale":{"domain":[1,40],"nice":false,"zero":false},"axis":null}}},
  {"data":{"name":"a_r"},"mark":{"type":"point","opacity":0},"encoding":{"x":{"field":"lat","type":"quantitative","scale":{"domain":[-90,90],"nice":false,"zero":false},"axis":{"orient":"bottom","values":[-90,-60,-30,0,30,60,90],"title":"Latitude","labelExpr":"datum.value < 0 ? '-' + abs(datum.value) : '' + datum.value"}},"y":{"field":"v","type":"quantitative","scale":{"domain":[1,40],"nice":false,"zero":false},"axis":{"orient":"left","values":[10,20,30,40],"title":"Reff Liquid (μm)","minExtent":37,"maxExtent":37}}}},
  {"data":{"name":"a_r"},"mark":{"type":"point","opacity":0},"encoding":{"x":{"field":"lat","type":"quantitative","scale":{"domain":[-90,90],"nice":false,"zero":false},"axis":{"orient":"top","values":[-90,-60,-30,0,30,60,90],"labels":false,"title":null}},"y":{"field":"v","type":"quantitative","scale":{"domain":[1,40],"nice":false,"zero":false},"axis":{"orient":"right","values":[10,20,30,40],"labels":false,"title":null}}}},
  {"data":{"name":"a_r"},"mark":{"type":"point","opacity":0},"encoding":{"x":{"field":"lat","type":"quantitative","scale":{"domain":[-90,90],"nice":false,"zero":false},"axis":{"orient":"bottom","values":[-80,-70,-50,-40,-20,-10,10,20,40,50,70,80],"labels":false,"domain":false,"title":null,"tickSize":3}},"y":{"field":"v","type":"quantitative","scale":{"domain":[1,40],"nice":false,"zero":false},"axis":{"orient":"left","values":[2,4,6,8,12,14,16,18,22,24,26,28,32,34,36,38],"labels":false,"domain":false,"title":null,"tickSize":3}}}},
  {"data":{"name":"a_r"},"mark":{"type":"point","opacity":0},"encoding":{"x":{"field":"lat","type":"quantitative","scale":{"domain":[-90,90],"nice":false,"zero":false},"axis":{"orient":"top","values":[-80,-70,-50,-40,-20,-10,10,20,40,50,70,80],"labels":false,"domain":false,"title":null,"tickSize":3}},"y":{"field":"v","type":"quantitative","scale":{"domain":[1,40],"nice":false,"zero":false},"axis":{"orient":"right","values":[2,4,6,8,12,14,16,18,22,24,26,28,32,34,36,38],"labels":false,"domain":false,"title":null,"tickSize":3}}}}
 ]},
{"width":224,"height":90,"title":"(b)","resolve":{"axis":{"x":"independent","y":"independent"}},
 "layer":[
  {"data":{"name":"b_r"},"mark":{"type":"line","color":"#ff0000","strokeWidth":1,"clip":true},"encoding":{"x":{"field":"lat","type":"quantitative","scale":{"domain":[-90,90],"nice":false,"zero":false},"axis":null},"y":{"field":"v","type":"quantitative","scale":{"domain":[20,80],"nice":false,"zero":false},"axis":null}}},
  {"data":{"name":"b_k"},"mark":{"type":"line","color":"#000000","strokeWidth":1,"clip":true},"encoding":{"x":{"field":"lat","type":"quantitative","scale":{"domain":[-90,90],"nice":false,"zero":false},"axis":null},"y":{"field":"v","type":"quantitative","scale":{"domain":[20,80],"nice":false,"zero":false},"axis":null}}},
  {"data":{"name":"b_r"},"mark":{"type":"point","opacity":0},"encoding":{"x":{"field":"lat","type":"quantitative","scale":{"domain":[-90,90],"nice":false,"zero":false},"axis":{"orient":"bottom","values":[-90,-60,-30,0,30,60,90],"title":"Latitude","labelExpr":"datum.value < 0 ? '-' + abs(datum.value) : '' + datum.value"}},"y":{"field":"v","type":"quantitative","scale":{"domain":[20,80],"nice":false,"zero":false},"axis":{"orient":"left","values":[20,30,40,50,60,70,80],"title":"Reff Ice (μm)","minExtent":37,"maxExtent":37}}}},
  {"data":{"name":"b_r"},"mark":{"type":"point","opacity":0},"encoding":{"x":{"field":"lat","type":"quantitative","scale":{"domain":[-90,90],"nice":false,"zero":false},"axis":{"orient":"top","values":[-90,-60,-30,0,30,60,90],"labels":false,"title":null}},"y":{"field":"v","type":"quantitative","scale":{"domain":[20,80],"nice":false,"zero":false},"axis":{"orient":"right","values":[20,30,40,50,60,70,80],"labels":false,"title":null}}}},
  {"data":{"name":"b_r"},"mark":{"type":"point","opacity":0},"encoding":{"x":{"field":"lat","type":"quantitative","scale":{"domain":[-90,90],"nice":false,"zero":false},"axis":{"orient":"bottom","values":[-80,-70,-50,-40,-20,-10,10,20,40,50,70,80],"labels":false,"domain":false,"title":null,"tickSize":3}},"y":{"field":"v","type":"quantitative","scale":{"domain":[20,80],"nice":false,"zero":false},"axis":{"orient":"left","values":[22,24,26,28,32,34,36,38,42,44,46,48,52,54,56,58,62,64,66,68,72,74,76,78],"labels":false,"domain":false,"title":null,"tickSize":3}}}},
  {"data":{"name":"b_r"},"mark":{"type":"point","opacity":0},"encoding":{"x":{"field":"lat","type":"quantitative","scale":{"domain":[-90,90],"nice":false,"zero":false},"axis":{"orient":"top","values":[-80,-70,-50,-40,-20,-10,10,20,40,50,70,80],"labels":false,"domain":false,"title":null,"tickSize":3}},"y":{"field":"v","type":"quantitative","scale":{"domain":[20,80],"nice":false,"zero":false},"axis":{"orient":"right","values":[22,24,26,28,32,34,36,38,42,44,46,48,52,54,56,58,62,64,66,68,72,74,76,78],"labels":false,"domain":false,"title":null,"tickSize":3}}}}
 ]},
{"width":224,"height":90,"title":"(c)","resolve":{"axis":{"x":"independent","y":"independent"}},
 "layer":[
  {"data":{"name":"c_r"},"mark":{"type":"line","color":"#ff0000","strokeWidth":1,"clip":true},"encoding":{"x":{"field":"lat","type":"quantitative","scale":{"domain":[-90,90],"nice":false,"zero":false},"axis":null},"y":{"field":"v","type":"quantitative","scale":{"domain":[-120,0],"reverse":true,"nice":false,"zero":false},"axis":null}}},
  {"data":{"name":"c_k"},"mark":{"type":"line","color":"#000000","strokeWidth":1,"clip":true},"encoding":{"x":{"field":"lat","type":"quantitative","scale":{"domain":[-90,90],"nice":false,"zero":false},"axis":null},"y":{"field":"v","type":"quantitative","scale":{"domain":[-120,0],"reverse":true,"nice":false,"zero":false},"axis":null}}},
  {"data":{"name":"c_r"},"mark":{"type":"point","opacity":0},"encoding":{"x":{"field":"lat","type":"quantitative","scale":{"domain":[-90,90],"nice":false,"zero":false},"axis":{"orient":"bottom","values":[-90,-60,-30,0,30,60,90],"title":"Latitude","labelExpr":"datum.value < 0 ? '-' + abs(datum.value) : '' + datum.value"}},"y":{"field":"v","type":"quantitative","scale":{"domain":[-120,0],"reverse":true,"nice":false,"zero":false},"axis":{"orient":"left","values":[0,-20,-40,-60,-80,-100,-120],"title":"SWCE (W m⁻²)","labelExpr":"datum.value < 0 ? '-' + abs(datum.value) : '' + datum.value","minExtent":37,"maxExtent":37}}}},
  {"data":{"name":"c_r"},"mark":{"type":"point","opacity":0},"encoding":{"x":{"field":"lat","type":"quantitative","scale":{"domain":[-90,90],"nice":false,"zero":false},"axis":{"orient":"top","values":[-90,-60,-30,0,30,60,90],"labels":false,"title":null}},"y":{"field":"v","type":"quantitative","scale":{"domain":[-120,0],"reverse":true,"nice":false,"zero":false},"axis":{"orient":"right","values":[0,-20,-40,-60,-80,-100,-120],"labels":false,"title":null}}}},
  {"data":{"name":"c_r"},"mark":{"type":"point","opacity":0},"encoding":{"x":{"field":"lat","type":"quantitative","scale":{"domain":[-90,90],"nice":false,"zero":false},"axis":{"orient":"bottom","values":[-80,-70,-50,-40,-20,-10,10,20,40,50,70,80],"labels":false,"domain":false,"title":null,"tickSize":3}},"y":{"field":"v","type":"quantitative","scale":{"domain":[-120,0],"reverse":true,"nice":false,"zero":false},"axis":{"orient":"left","values":[-4,-8,-12,-16,-24,-28,-32,-36,-44,-48,-52,-56,-64,-68,-72,-76,-84,-88,-92,-96,-104,-108,-112,-116],"labels":false,"domain":false,"title":null,"tickSize":3}}}},
  {"data":{"name":"c_r"},"mark":{"type":"point","opacity":0},"encoding":{"x":{"field":"lat","type":"quantitative","scale":{"domain":[-90,90],"nice":false,"zero":false},"axis":{"orient":"top","values":[-80,-70,-50,-40,-20,-10,10,20,40,50,70,80],"labels":false,"domain":false,"title":null,"tickSize":3}},"y":{"field":"v","type":"quantitative","scale":{"domain":[-120,0],"reverse":true,"nice":false,"zero":false},"axis":{"orient":"right","values":[-4,-8,-12,-16,-24,-28,-32,-36,-44,-48,-52,-56,-64,-68,-72,-76,-84,-88,-92,-96,-104,-108,-112,-116],"labels":false,"domain":false,"title":null,"tickSize":3}}}}
 ]},
{"width":224,"height":90,"title":"(d)","resolve":{"axis":{"x":"independent","y":"independent"}},
 "layer":[
  {"data":{"name":"d_r"},"mark":{"type":"line","color":"#ff0000","strokeWidth":1,"clip":true},"encoding":{"x":{"field":"lat","type":"quantitative","scale":{"domain":[-90,90],"nice":false,"zero":false},"axis":null},"y":{"field":"v","type":"quantitative","scale":{"domain":[0,60],"nice":false,"zero":false},"axis":null}}},
  {"data":{"name":"d_k"},"mark":{"type":"line","color":"#000000","strokeWidth":1,"clip":true},"encoding":{"x":{"field":"lat","type":"quantitative","scale":{"domain":[-90,90],"nice":false,"zero":false},"axis":null},"y":{"field":"v","type":"quantitative","scale":{"domain":[0,60],"nice":false,"zero":false},"axis":null}}},
  {"data":{"name":"d_r"},"mark":{"type":"point","opacity":0},"encoding":{"x":{"field":"lat","type":"quantitative","scale":{"domain":[-90,90],"nice":false,"zero":false},"axis":{"orient":"bottom","values":[-90,-60,-30,0,30,60,90],"title":"Latitude","labelExpr":"datum.value < 0 ? '-' + abs(datum.value) : '' + datum.value"}},"y":{"field":"v","type":"quantitative","scale":{"domain":[0,60],"nice":false,"zero":false},"axis":{"orient":"left","values":[0,10,20,30,40,50,60],"title":"LWCE (W m⁻²)","minExtent":37,"maxExtent":37}}}},
  {"data":{"name":"d_r"},"mark":{"type":"point","opacity":0},"encoding":{"x":{"field":"lat","type":"quantitative","scale":{"domain":[-90,90],"nice":false,"zero":false},"axis":{"orient":"top","values":[-90,-60,-30,0,30,60,90],"labels":false,"title":null}},"y":{"field":"v","type":"quantitative","scale":{"domain":[0,60],"nice":false,"zero":false},"axis":{"orient":"right","values":[0,10,20,30,40,50,60],"labels":false,"title":null}}}},
  {"data":{"name":"d_r"},"mark":{"type":"point","opacity":0},"encoding":{"x":{"field":"lat","type":"quantitative","scale":{"domain":[-90,90],"nice":false,"zero":false},"axis":{"orient":"bottom","values":[-80,-70,-50,-40,-20,-10,10,20,40,50,70,80],"labels":false,"domain":false,"title":null,"tickSize":3}},"y":{"field":"v","type":"quantitative","scale":{"domain":[0,60],"nice":false,"zero":false},"axis":{"orient":"left","values":[2,4,6,8,12,14,16,18,22,24,26,28,32,34,36,38,42,44,46,48,52,54,56,58],"labels":false,"domain":false,"title":null,"tickSize":3}}}},
  {"data":{"name":"d_r"},"mark":{"type":"point","opacity":0},"encoding":{"x":{"field":"lat","type":"quantitative","scale":{"domain":[-90,90],"nice":false,"zero":false},"axis":{"orient":"top","values":[-80,-70,-50,-40,-20,-10,10,20,40,50,70,80],"labels":false,"domain":false,"title":null,"tickSize":3}},"y":{"field":"v","type":"quantitative","scale":{"domain":[0,60],"nice":false,"zero":false},"axis":{"orient":"right","values":[2,4,6,8,12,14,16,18,22,24,26,28,32,34,36,38,42,44,46,48,52,54,56,58],"labels":false,"domain":false,"title":null,"tickSize":3}}}}
 ]},
{"width":224,"height":90,"title":"(e)","resolve":{"axis":{"x":"independent","y":"independent"}},
 "layer":[
  {"data":{"name":"e_o"},"mark":{"type":"point","shape":"circle","filled":false,"size":16,"strokeWidth":0.9,"color":"#383838","clip":true},"encoding":{"x":{"field":"lat","type":"quantitative","scale":{"domain":[-90,90],"nice":false,"zero":false},"axis":null},"y":{"field":"v","type":"quantitative","scale":{"domain":[0,200],"nice":false,"zero":false},"axis":null}}},
  {"data":{"name":"e_r"},"mark":{"type":"line","color":"#ff0000","strokeWidth":1,"clip":true},"encoding":{"x":{"field":"lat","type":"quantitative","scale":{"domain":[-90,90],"nice":false,"zero":false},"axis":null},"y":{"field":"v","type":"quantitative","scale":{"domain":[0,200],"nice":false,"zero":false},"axis":null}}},
  {"data":{"name":"e_k"},"mark":{"type":"line","color":"#000000","strokeWidth":1,"clip":true},"encoding":{"x":{"field":"lat","type":"quantitative","scale":{"domain":[-90,90],"nice":false,"zero":false},"axis":null},"y":{"field":"v","type":"quantitative","scale":{"domain":[0,200],"nice":false,"zero":false},"axis":null}}},
  {"data":{"name":"e_r"},"mark":{"type":"point","opacity":0},"encoding":{"x":{"field":"lat","type":"quantitative","scale":{"domain":[-90,90],"nice":false,"zero":false},"axis":{"orient":"bottom","values":[-90,-60,-30,0,30,60,90],"title":"Latitude","labelExpr":"datum.value < 0 ? '-' + abs(datum.value) : '' + datum.value"}},"y":{"field":"v","type":"quantitative","scale":{"domain":[0,200],"nice":false,"zero":false},"axis":{"orient":"left","values":[0,30,60,90,120,150,180],"title":"LWP (g m⁻²)","minExtent":37,"maxExtent":37}}}},
  {"data":{"name":"e_r"},"mark":{"type":"point","opacity":0},"encoding":{"x":{"field":"lat","type":"quantitative","scale":{"domain":[-90,90],"nice":false,"zero":false},"axis":{"orient":"top","values":[-90,-60,-30,0,30,60,90],"labels":false,"title":null}},"y":{"field":"v","type":"quantitative","scale":{"domain":[0,200],"nice":false,"zero":false},"axis":{"orient":"right","values":[0,30,60,90,120,150,180],"labels":false,"title":null}}}},
  {"data":{"name":"e_r"},"mark":{"type":"point","opacity":0},"encoding":{"x":{"field":"lat","type":"quantitative","scale":{"domain":[-90,90],"nice":false,"zero":false},"axis":{"orient":"bottom","values":[-80,-70,-50,-40,-20,-10,10,20,40,50,70,80],"labels":false,"domain":false,"title":null,"tickSize":3}},"y":{"field":"v","type":"quantitative","scale":{"domain":[0,200],"nice":false,"zero":false},"axis":{"orient":"left","values":[10,20,40,50,70,80,100,110,130,140,160,170,190,200],"labels":false,"domain":false,"title":null,"tickSize":3}}}},
  {"data":{"name":"e_r"},"mark":{"type":"point","opacity":0},"encoding":{"x":{"field":"lat","type":"quantitative","scale":{"domain":[-90,90],"nice":false,"zero":false},"axis":{"orient":"top","values":[-80,-70,-50,-40,-20,-10,10,20,40,50,70,80],"labels":false,"domain":false,"title":null,"tickSize":3}},"y":{"field":"v","type":"quantitative","scale":{"domain":[0,200],"nice":false,"zero":false},"axis":{"orient":"right","values":[10,20,40,50,70,80,100,110,130,140,160,170,190,200],"labels":false,"domain":false,"title":null,"tickSize":3}}}}
 ]},
{"width":224,"height":90,"title":"(f)","resolve":{"axis":{"x":"independent","y":"independent"}},
 "layer":[
  {"data":{"name":"f_o"},"mark":{"type":"point","shape":"circle","filled":false,"size":16,"strokeWidth":0.9,"color":"#ff3030","clip":true},"encoding":{"x":{"field":"lat","type":"quantitative","scale":{"domain":[-90,90],"nice":false,"zero":false},"axis":null},"y":{"field":"v","type":"quantitative","scale":{"domain":[0,100],"nice":false,"zero":false},"axis":null}}},
  {"data":{"name":"f_r"},"mark":{"type":"line","color":"#ff0000","strokeWidth":1,"clip":true},"encoding":{"x":{"field":"lat","type":"quantitative","scale":{"domain":[-90,90],"nice":false,"zero":false},"axis":null},"y":{"field":"v","type":"quantitative","scale":{"domain":[0,100],"nice":false,"zero":false},"axis":null}}},
  {"data":{"name":"f_k1"},"mark":{"type":"line","color":"#000000","strokeWidth":1,"clip":true},"encoding":{"x":{"field":"lat","type":"quantitative","scale":{"domain":[-90,90],"nice":false,"zero":false},"axis":null},"y":{"field":"v","type":"quantitative","scale":{"domain":[0,100],"nice":false,"zero":false},"axis":null}}},
  {"data":{"name":"f_k2"},"mark":{"type":"line","color":"#000000","strokeWidth":1,"clip":true},"encoding":{"x":{"field":"lat","type":"quantitative","scale":{"domain":[-90,90],"nice":false,"zero":false},"axis":null},"y":{"field":"v","type":"quantitative","scale":{"domain":[0,100],"nice":false,"zero":false},"axis":null}}},
  {"data":{"name":"f_r"},"mark":{"type":"point","opacity":0},"encoding":{"x":{"field":"lat","type":"quantitative","scale":{"domain":[-90,90],"nice":false,"zero":false},"axis":{"orient":"bottom","values":[-90,-60,-30,0,30,60,90],"title":"Latitude","labelExpr":"datum.value < 0 ? '-' + abs(datum.value) : '' + datum.value"}},"y":{"field":"v","type":"quantitative","scale":{"domain":[0,100],"nice":false,"zero":false},"axis":{"orient":"left","values":[0,20,40,60,80,100],"title":"IWP (g m⁻²)","minExtent":37,"maxExtent":37}}}},
  {"data":{"name":"f_r"},"mark":{"type":"point","opacity":0},"encoding":{"x":{"field":"lat","type":"quantitative","scale":{"domain":[-90,90],"nice":false,"zero":false},"axis":{"orient":"top","values":[-90,-60,-30,0,30,60,90],"labels":false,"title":null}},"y":{"field":"v","type":"quantitative","scale":{"domain":[0,100],"nice":false,"zero":false},"axis":{"orient":"right","values":[0,20,40,60,80,100],"labels":false,"title":null}}}},
  {"data":{"name":"f_r"},"mark":{"type":"point","opacity":0},"encoding":{"x":{"field":"lat","type":"quantitative","scale":{"domain":[-90,90],"nice":false,"zero":false},"axis":{"orient":"bottom","values":[-80,-70,-50,-40,-20,-10,10,20,40,50,70,80],"labels":false,"domain":false,"title":null,"tickSize":3}},"y":{"field":"v","type":"quantitative","scale":{"domain":[0,100],"nice":false,"zero":false},"axis":{"orient":"left","values":[5,10,15,25,30,35,45,50,55,65,70,75,85,90,95],"labels":false,"domain":false,"title":null,"tickSize":3}}}},
  {"data":{"name":"f_r"},"mark":{"type":"point","opacity":0},"encoding":{"x":{"field":"lat","type":"quantitative","scale":{"domain":[-90,90],"nice":false,"zero":false},"axis":{"orient":"top","values":[-80,-70,-50,-40,-20,-10,10,20,40,50,70,80],"labels":false,"domain":false,"title":null,"tickSize":3}},"y":{"field":"v","type":"quantitative","scale":{"domain":[0,100],"nice":false,"zero":false},"axis":{"orient":"right","values":[5,10,15,25,30,35,45,50,55,65,70,75,85,90,95],"labels":false,"domain":false,"title":null,"tickSize":3}}}}
 ]},
{"width":224,"height":90,"title":"(g)","resolve":{"axis":{"x":"independent","y":"independent"}},
 "layer":[
  {"data":{"name":"g_o"},"mark":{"type":"point","shape":"circle","filled":false,"size":16,"strokeWidth":0.8,"color":"#404040","clip":true},"encoding":{"x":{"field":"lat","type":"quantitative","scale":{"domain":[-90,90],"nice":false,"zero":false},"axis":null},"y":{"field":"v","type":"quantitative","scale":{"domain":[20,100],"nice":false,"zero":false},"axis":null}}},
  {"data":{"name":"g_r"},"mark":{"type":"line","color":"#ff0000","strokeWidth":1,"clip":true},"encoding":{"x":{"field":"lat","type":"quantitative","scale":{"domain":[-90,90],"nice":false,"zero":false},"axis":null},"y":{"field":"v","type":"quantitative","scale":{"domain":[20,100],"nice":false,"zero":false},"axis":null}}},
  {"data":{"name":"g_r"},"mark":{"type":"point","opacity":0},"encoding":{"x":{"field":"lat","type":"quantitative","scale":{"domain":[-90,90],"nice":false,"zero":false},"axis":{"orient":"bottom","values":[-90,-60,-30,0,30,60,90],"title":"Latitude","labelExpr":"datum.value < 0 ? '-' + abs(datum.value) : '' + datum.value"}},"y":{"field":"v","type":"quantitative","scale":{"domain":[20,100],"nice":false,"zero":false},"axis":{"orient":"left","values":[20,40,60,80,100],"title":"Cloud Fraction","minExtent":37,"maxExtent":37}}}},
  {"data":{"name":"g_r"},"mark":{"type":"point","opacity":0},"encoding":{"x":{"field":"lat","type":"quantitative","scale":{"domain":[-90,90],"nice":false,"zero":false},"axis":{"orient":"top","values":[-90,-60,-30,0,30,60,90],"labels":false,"title":null}},"y":{"field":"v","type":"quantitative","scale":{"domain":[20,100],"nice":false,"zero":false},"axis":{"orient":"right","values":[20,40,60,80,100],"labels":false,"title":null}}}},
  {"data":{"name":"g_r"},"mark":{"type":"point","opacity":0},"encoding":{"x":{"field":"lat","type":"quantitative","scale":{"domain":[-90,90],"nice":false,"zero":false},"axis":{"orient":"bottom","values":[-80,-70,-50,-40,-20,-10,10,20,40,50,70,80],"labels":false,"domain":false,"title":null,"tickSize":3}},"y":{"field":"v","type":"quantitative","scale":{"domain":[20,100],"nice":false,"zero":false},"axis":{"orient":"left","values":[25,30,35,45,50,55,65,70,75,85,90,95],"labels":false,"domain":false,"title":null,"tickSize":3}}}},
  {"data":{"name":"g_r"},"mark":{"type":"point","opacity":0},"encoding":{"x":{"field":"lat","type":"quantitative","scale":{"domain":[-90,90],"nice":false,"zero":false},"axis":{"orient":"top","values":[-80,-70,-50,-40,-20,-10,10,20,40,50,70,80],"labels":false,"domain":false,"title":null,"tickSize":3}},"y":{"field":"v","type":"quantitative","scale":{"domain":[20,100],"nice":false,"zero":false},"axis":{"orient":"right","values":[25,30,35,45,50,55,65,70,75,85,90,95],"labels":false,"domain":false,"title":null,"tickSize":3}}}}
 ]},
{"width":224,"height":90,"title":"(h)","resolve":{"axis":{"x":"independent","y":"independent"}},
 "layer":[
  {"data":{"name":"h_o"},"mark":{"type":"point","shape":"circle","filled":false,"size":16,"strokeWidth":0.8,"color":"#404040","clip":true},"encoding":{"x":{"field":"lat","type":"quantitative","scale":{"domain":[-90,90],"nice":false,"zero":false},"axis":null},"y":{"field":"v","type":"quantitative","scale":{"domain":[0,8],"nice":false,"zero":false},"axis":null}}},
  {"data":{"name":"h_r"},"mark":{"type":"line","color":"#ff0000","strokeWidth":1,"clip":true},"encoding":{"x":{"field":"lat","type":"quantitative","scale":{"domain":[-90,90],"nice":false,"zero":false},"axis":null},"y":{"field":"v","type":"quantitative","scale":{"domain":[0,8],"nice":false,"zero":false},"axis":null}}},
  {"data":{"name":"h_k"},"mark":{"type":"line","color":"#000000","strokeWidth":1,"clip":true},"encoding":{"x":{"field":"lat","type":"quantitative","scale":{"domain":[-90,90],"nice":false,"zero":false},"axis":null},"y":{"field":"v","type":"quantitative","scale":{"domain":[0,8],"nice":false,"zero":false},"axis":null}}},
  {"data":{"name":"h_r"},"mark":{"type":"point","opacity":0},"encoding":{"x":{"field":"lat","type":"quantitative","scale":{"domain":[-90,90],"nice":false,"zero":false},"axis":{"orient":"bottom","values":[-90,-60,-30,0,30,60,90],"title":"Latitude","labelExpr":"datum.value < 0 ? '-' + abs(datum.value) : '' + datum.value"}},"y":{"field":"v","type":"quantitative","scale":{"domain":[0,8],"nice":false,"zero":false},"axis":{"orient":"left","values":[0,2,4,6,8],"format":".1f","title":"Precip. (mm day⁻¹)","minExtent":37,"maxExtent":37}}}},
  {"data":{"name":"h_r"},"mark":{"type":"point","opacity":0},"encoding":{"x":{"field":"lat","type":"quantitative","scale":{"domain":[-90,90],"nice":false,"zero":false},"axis":{"orient":"top","values":[-90,-60,-30,0,30,60,90],"labels":false,"title":null}},"y":{"field":"v","type":"quantitative","scale":{"domain":[0,8],"nice":false,"zero":false},"axis":{"orient":"right","values":[0,2,4,6,8],"labels":false,"title":null}}}},
  {"data":{"name":"h_r"},"mark":{"type":"point","opacity":0},"encoding":{"x":{"field":"lat","type":"quantitative","scale":{"domain":[-90,90],"nice":false,"zero":false},"axis":{"orient":"bottom","values":[-80,-70,-50,-40,-20,-10,10,20,40,50,70,80],"labels":false,"domain":false,"title":null,"tickSize":3}},"y":{"field":"v","type":"quantitative","scale":{"domain":[0,8],"nice":false,"zero":false},"axis":{"orient":"left","values":[0.5,1,1.5,2.5,3,3.5,4.5,5,5.5,6.5,7,7.5],"labels":false,"domain":false,"title":null,"tickSize":3}}}},
  {"data":{"name":"h_r"},"mark":{"type":"point","opacity":0},"encoding":{"x":{"field":"lat","type":"quantitative","scale":{"domain":[-90,90],"nice":false,"zero":false},"axis":{"orient":"top","values":[-80,-70,-50,-40,-20,-10,10,20,40,50,70,80],"labels":false,"domain":false,"title":null,"tickSize":3}},"y":{"field":"v","type":"quantitative","scale":{"domain":[0,8],"nice":false,"zero":false},"axis":{"orient":"right","values":[0.5,1,1.5,2.5,3,3.5,4.5,5,5.5,6.5,7,7.5],"labels":false,"domain":false,"title":null,"tickSize":3}}}}
 ]},
{"width":224,"height":90,"title":"(i)","resolve":{"axis":{"x":"independent","y":"independent"}},
 "layer":[
  {"data":{"name":"i_b"},"mark":{"type":"point","shape":"circle","filled":false,"size":22,"strokeWidth":1,"color":"#3030ff","clip":true},"encoding":{"x":{"field":"lat","type":"quantitative","scale":{"domain":[-90,90],"nice":false,"zero":false},"axis":null},"y":{"field":"v","type":"quantitative","scale":{"domain":[0,50],"nice":false,"zero":false},"axis":null}}},
  {"data":{"name":"i_r"},"mark":{"type":"line","color":"#ff0000","strokeWidth":1,"clip":true},"encoding":{"x":{"field":"lat","type":"quantitative","scale":{"domain":[-90,90],"nice":false,"zero":false},"axis":null},"y":{"field":"v","type":"quantitative","scale":{"domain":[0,50],"nice":false,"zero":false},"axis":null}}},
  {"data":{"name":"i_k"},"mark":{"type":"line","color":"#000000","strokeWidth":1,"clip":true},"encoding":{"x":{"field":"lat","type":"quantitative","scale":{"domain":[-90,90],"nice":false,"zero":false},"axis":null},"y":{"field":"v","type":"quantitative","scale":{"domain":[0,50],"nice":false,"zero":false},"axis":null}}},
  {"data":{"name":"i_k"},"mark":{"type":"point","opacity":0},"encoding":{"x":{"field":"lat","type":"quantitative","scale":{"domain":[-90,90],"nice":false,"zero":false},"axis":{"orient":"bottom","values":[-90,-60,-30,0,30,60,90],"title":"Latitude","labelExpr":"datum.value < 0 ? '-' + abs(datum.value) : '' + datum.value"}},"y":{"field":"v","type":"quantitative","scale":{"domain":[0,50],"nice":false,"zero":false},"axis":{"orient":"left","values":[0,10,20,30,40,50],"title":"Liquid COD","minExtent":37,"maxExtent":37}}}},
  {"data":{"name":"i_k"},"mark":{"type":"point","opacity":0},"encoding":{"x":{"field":"lat","type":"quantitative","scale":{"domain":[-90,90],"nice":false,"zero":false},"axis":{"orient":"top","values":[-90,-60,-30,0,30,60,90],"labels":false,"title":null}},"y":{"field":"v","type":"quantitative","scale":{"domain":[0,50],"nice":false,"zero":false},"axis":{"orient":"right","values":[0,10,20,30,40,50],"labels":false,"title":null}}}},
  {"data":{"name":"i_k"},"mark":{"type":"point","opacity":0},"encoding":{"x":{"field":"lat","type":"quantitative","scale":{"domain":[-90,90],"nice":false,"zero":false},"axis":{"orient":"bottom","values":[-80,-70,-50,-40,-20,-10,10,20,40,50,70,80],"labels":false,"domain":false,"title":null,"tickSize":3}},"y":{"field":"v","type":"quantitative","scale":{"domain":[0,50],"nice":false,"zero":false},"axis":{"orient":"left","values":[2,4,6,8,12,14,16,18,22,24,26,28,32,34,36,38,42,44,46,48],"labels":false,"domain":false,"title":null,"tickSize":3}}}},
  {"data":{"name":"i_k"},"mark":{"type":"point","opacity":0},"encoding":{"x":{"field":"lat","type":"quantitative","scale":{"domain":[-90,90],"nice":false,"zero":false},"axis":{"orient":"top","values":[-80,-70,-50,-40,-20,-10,10,20,40,50,70,80],"labels":false,"domain":false,"title":null,"tickSize":3}},"y":{"field":"v","type":"quantitative","scale":{"domain":[0,50],"nice":false,"zero":false},"axis":{"orient":"right","values":[2,4,6,8,12,14,16,18,22,24,26,28,32,34,36,38,42,44,46,48],"labels":false,"domain":false,"title":null,"tickSize":3}}}}
 ]},
{"width":224,"height":90,"title":"(j)","resolve":{"axis":{"x":"independent","y":"independent"}},
 "layer":[
  {"data":{"name":"j_b"},"mark":{"type":"point","shape":"circle","filled":false,"size":22,"strokeWidth":1,"color":"#3030ff","clip":true},"encoding":{"x":{"field":"lat","type":"quantitative","scale":{"domain":[-90,90],"nice":false,"zero":false},"axis":null},"y":{"field":"v","type":"quantitative","scale":{"domain":[0,50],"nice":false,"zero":false},"axis":null}}},
  {"data":{"name":"j_g"},"mark":{"type":"point","shape":"circle","filled":false,"size":14,"strokeWidth":2,"color":"#33ee33","clip":true},"encoding":{"x":{"field":"lat","type":"quantitative","scale":{"domain":[-90,90],"nice":false,"zero":false},"axis":null},"y":{"field":"v","type":"quantitative","scale":{"domain":[0,50],"nice":false,"zero":false},"axis":null}}},
  {"data":{"name":"j_r"},"mark":{"type":"line","color":"#ff0000","strokeWidth":1,"clip":true},"encoding":{"x":{"field":"lat","type":"quantitative","scale":{"domain":[-90,90],"nice":false,"zero":false},"axis":null},"y":{"field":"v","type":"quantitative","scale":{"domain":[0,50],"nice":false,"zero":false},"axis":null}}},
  {"data":{"name":"j_k"},"mark":{"type":"line","color":"#000000","strokeWidth":1,"clip":true},"encoding":{"x":{"field":"lat","type":"quantitative","scale":{"domain":[-90,90],"nice":false,"zero":false},"axis":null},"y":{"field":"v","type":"quantitative","scale":{"domain":[0,50],"nice":false,"zero":false},"axis":null}}},
  {"data":{"name":"j_k"},"mark":{"type":"point","opacity":0},"encoding":{"x":{"field":"lat","type":"quantitative","scale":{"domain":[-90,90],"nice":false,"zero":false},"axis":{"orient":"bottom","values":[-90,-60,-30,0,30,60,90],"title":"Latitude","labelExpr":"datum.value < 0 ? '-' + abs(datum.value) : '' + datum.value"}},"y":{"field":"v","type":"quantitative","scale":{"domain":[0,50],"nice":false,"zero":false},"axis":{"orient":"left","values":[0,10,20,30,40,50],"title":"Ice COD","minExtent":37,"maxExtent":37}}}},
  {"data":{"name":"j_k"},"mark":{"type":"point","opacity":0},"encoding":{"x":{"field":"lat","type":"quantitative","scale":{"domain":[-90,90],"nice":false,"zero":false},"axis":{"orient":"top","values":[-90,-60,-30,0,30,60,90],"labels":false,"title":null}},"y":{"field":"v","type":"quantitative","scale":{"domain":[0,50],"nice":false,"zero":false},"axis":{"orient":"right","values":[0,10,20,30,40,50],"labels":false,"title":null}}}},
  {"data":{"name":"j_k"},"mark":{"type":"point","opacity":0},"encoding":{"x":{"field":"lat","type":"quantitative","scale":{"domain":[-90,90],"nice":false,"zero":false},"axis":{"orient":"bottom","values":[-80,-70,-50,-40,-20,-10,10,20,40,50,70,80],"labels":false,"domain":false,"title":null,"tickSize":3}},"y":{"field":"v","type":"quantitative","scale":{"domain":[0,50],"nice":false,"zero":false},"axis":{"orient":"left","values":[2,4,6,8,12,14,16,18,22,24,26,28,32,34,36,38,42,44,46,48],"labels":false,"domain":false,"title":null,"tickSize":3}}}},
  {"data":{"name":"j_k"},"mark":{"type":"point","opacity":0},"encoding":{"x":{"field":"lat","type":"quantitative","scale":{"domain":[-90,90],"nice":false,"zero":false},"axis":{"orient":"top","values":[-80,-70,-50,-40,-20,-10,10,20,40,50,70,80],"labels":false,"domain":false,"title":null,"tickSize":3}},"y":{"field":"v","type":"quantitative","scale":{"domain":[0,50],"nice":false,"zero":false},"axis":{"orient":"right","values":[2,4,6,8,12,14,16,18,22,24,26,28,32,34,36,38,42,44,46,48],"labels":false,"domain":false,"title":null,"tickSize":3}}}}
 ]}
]
}
